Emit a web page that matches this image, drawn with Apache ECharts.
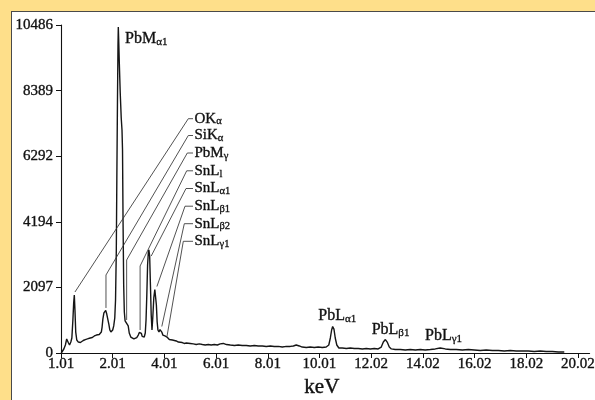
<!DOCTYPE html>
<html><head><meta charset="utf-8">
<script src="https://cdn.jsdelivr.net/npm/echarts@6/dist/echarts.min.js"></script>
<style>
html,body{margin:0;padding:0;background:#FEDF8A;width:595px;height:400px;overflow:hidden;}
#panel{position:absolute;left:11px;top:11px;width:600px;height:400px;background:#fff;border-left:1px solid #4a4a4a;border-top:1px solid #4a4a4a;}
#chart{position:absolute;left:0;top:0;width:595px;height:400px;}
</style></head><body>
<div id="panel"></div><div id="chart"></div>
<script>
// ---- data ----
const energyKeV = [0.01,0.05,0.11,0.17,0.22,0.255,0.29,0.33,0.38,0.42,
0.46,0.49,0.515,0.54,0.57,0.61,0.67,0.71,0.75,0.785,
0.82,0.86,0.90,0.94,0.98,1.02,1.06,1.09,1.13,1.17,
1.21,1.25,1.29,1.33,1.37,1.40,1.44,1.48,1.52,1.56,
1.59,1.62,1.66,1.69,1.73,1.77,1.81,1.85,1.89,1.93,
1.97,2.00,2.04,2.08,2.11,2.14,2.16,2.185,2.205,2.217,
2.23,2.255,2.29,2.33,2.36,2.38,2.40,2.425,2.45,2.48,
2.52,2.55,2.60,2.64,2.70,2.76,2.82,2.87,2.93,2.99,
3.03,3.07,3.11,3.14,3.18,3.22,3.26,3.29,3.32,3.35,
3.38,3.40,3.43,3.46,3.49,3.52,3.55,3.59,3.63,3.66,
3.69,3.72,3.75,3.79,3.83,3.86,3.90,3.94,3.98,4.02,
4.06,4.10,4.14,4.19,4.25,4.31,4.38,4.46,4.54,4.61,
4.69,4.77,4.85,4.92,5.00,5.12,5.23,5.35,5.47,5.58,
5.70,5.81,5.93,6.05,6.16,6.28,6.40,6.55,6.71,6.86,
7.01,7.17,7.32,7.48,7.63,7.79,7.94,8.10,8.25,8.41,
8.56,8.72,8.87,8.99,9.10,9.22,9.33,9.49,9.64,9.80,
9.95,10.11,10.26,10.36,10.42,10.47,10.51,10.56,10.61,10.67,
10.75,10.88,11.04,11.19,11.35,11.50,11.66,11.81,11.97,12.12,
12.27,12.39,12.47,12.55,12.62,12.70,12.78,12.93,13.13,13.32,
13.51,13.71,13.90,14.09,14.29,14.48,14.67,14.87,15.06,15.29,
15.53,15.76,15.99,16.22,16.45,16.69,16.92,17.15,17.38,17.61,
17.84,18.08,18.31,18.54,18.77,19.01,19.24,19.47];
const counts = [0,32,128,256,448,480,320,256,352,480,
1055,1600,1855,1375,670,415,350,385,335,385,
350,400,385,430,415,450,465,450,480,510,
495,530,545,560,575,590,607,590,625,670,
830,1085,1280,1340,1360,1245,1185,925,735,670,
670,735,865,1120,1695,3290,5530,8090,9845,10420,
10070,9300,8345,7515,7130,6490,4250,2175,1310,1025,
1085,1025,865,640,510,465,450,465,495,575,
655,685,625,530,480,510,640,1055,1855,2815,
3230,3295,3100,2175,1215,735,1120,1760,2030,1980,
1535,990,735,670,750,785,670,575,530,545,
495,510,465,430,400,415,370,385,350,320,
335,305,320,290,305,290,270,290,270,255,
270,255,270,255,290,305,270,255,240,255,
240,240,225,240,225,225,210,225,210,210,
190,210,210,225,255,225,190,175,190,175,
190,175,190,255,480,735,845,765,480,255,
160,160,145,160,145,145,130,145,130,145,
130,190,350,430,350,190,130,110,110,95,
110,95,110,95,110,130,160,130,110,110,
95,110,95,80,95,80,80,65,80,65,
65,65,50,65,50,50,30,30];
const yTickLabels = ['0','2097','4194','6292','8389','10486'];
const xTickLabels = ['1.01','2.01','4.01','6.01','8.01','10.01','12.02','14.02','16.02','18.02','20.02'];
const xAxisName = 'keV';

const peakNames = ['PbM','PbL','PbL','PbL'];
const peakSubs = ['α1','α1','β1','γ1'];
const peakKeV = [2.217, 10.51, 12.55, 14.67];
const peakCounts = [10420, 845, 430, 160];

const leaderNames = ['OK','SiK','PbM','SnL','SnL','SnL','SnL','SnL'];
const leaderSubs = ['α','α','γ','l','α1','β1','β2','γ1'];
const leaderKeV = [0.54, 1.74, 2.54, 3.06, 3.49, 3.71, 3.90, 4.10];
const leaderEndCounts = [1950, 1440, 1055, 735, 3100, 2125, 847, 527];
const leaderBendCounts = [1950, 2494, 2973, 2781, 3100, 2125, 847, 527];

// ---- layout / style (not data) ----
const leaderRowsY = [118.7, 135.5, 153, 170.8, 188.5, 206.2, 223.7, 241.3];
const leaderStartX = [188.3, 188.3, 187.3, 186.7, 186, 185, 184.3, 183.3];
const peakLabelOffset = [[6.7, 12], [-14.4, -10.7], [-13.7, -9.5], [-15.2, -11.7]];
const FONT = '"Liberation Serif", "Times New Roman", serif';
const INK = '#111';

function richStyle(main, sub, pad) {
  return {
    m: {fontFamily: FONT, fontSize: main, lineHeight: main + 1, fill: INK, stroke: INK, lineWidth: 0.35},
    s: {fontFamily: FONT, fontSize: sub, lineHeight: sub, padding: [pad, 0, 0, 0], fill: INK, stroke: INK, lineWidth: 0.3}
  };
}

const seriesData = energyKeV.map((e, i) => [e, counts[i]]);
const X_MAX = 20.45;
const axisText = {fontFamily: FONT, fontSize: 15, color: INK, textBorderColor: INK, textBorderWidth: 0.35};

const chart = echarts.init(document.getElementById('chart'), null, {renderer: 'canvas'});
chart.setOption({
  animation: false,
  backgroundColor: 'transparent',
  grid: {left: 61, right: 5.4, top: 25, bottom: 47, containLabel: false, outerBoundsMode: 'none'},
  xAxis: {
    type: 'value', min: 0, max: X_MAX,
    name: xAxisName, nameLocation: 'middle', nameGap: 22,
    nameTextStyle: {fontFamily: FONT, fontSize: 21, color: INK, textBorderColor: INK, textBorderWidth: 0.4, padding: [0, 7, 0, 0]},
    axisLine: {show: true, lineStyle: {color: INK, width: 1.1}},
    axisTick: {show: true, length: 5, inside: false, lineStyle: {color: INK},
      customValues: xTickLabels.map((_, i) => i * 2)},
    axisLabel: Object.assign({show: true, margin: 4,
      customValues: xTickLabels.map((_, i) => i * 2),
      formatter: v => xTickLabels[Math.round(v / 2)] || ''}, axisText),
    splitLine: {show: false}
  },
  yAxis: {
    type: 'value', min: 0, max: Number(yTickLabels[yTickLabels.length - 1]),
    axisLine: {show: true, lineStyle: {color: INK, width: 1.1}},
    axisTick: {show: true, length: 5, lineStyle: {color: INK},
      customValues: yTickLabels.map(Number)},
    axisLabel: Object.assign({show: true, margin: 8,
      customValues: yTickLabels.map(Number),
      formatter: v => String(Math.round(v))}, axisText),
    splitLine: {show: false}
  },
  series: [
    {
      type: 'line', data: seriesData, showSymbol: false, symbol: 'none',
      lineStyle: {color: '#151515', width: 1.4}, z: 3
    },
    {
      type: 'custom', coordinateSystem: 'cartesian2d', clip: false, z: 4,
      data: leaderKeV.map((k, i) => [k, leaderEndCounts[i], leaderBendCounts[i]]),
      renderItem: function (params, api) {
        const i = params.dataIndex;
        const end = api.coord([api.value(0), api.value(1)]);
        const bend = api.coord([api.value(0), api.value(2)]);
        const ly = leaderRowsY[i];
        const pts = [[193, ly], [leaderStartX[i], ly], bend, end];
        return {
          type: 'group',
          children: [
            {type: 'polyline', shape: {points: pts},
             style: {stroke: '#333', lineWidth: 0.85, fill: null}},
            {type: 'text',
             style: {x: 194.5, y: ly, text: '{m|' + leaderNames[i] + '}{s|' + leaderSubs[i] + '}',
                     rich: richStyle(15, 10.5, 6), align: 'left', verticalAlign: 'middle', fill: INK}}
          ]
        };
      }
    },
    {
      type: 'custom', coordinateSystem: 'cartesian2d', clip: false, z: 4,
      data: peakKeV.map((k, i) => [k, peakCounts[i]]),
      renderItem: function (params, api) {
        const i = params.dataIndex;
        const p = api.coord([api.value(0), api.value(1)]);
        const off = peakLabelOffset[i];
        return {
          type: 'text',
          style: {x: p[0] + off[0], y: p[1] + off[1],
                  text: '{m|' + peakNames[i] + '}{s|' + peakSubs[i] + '}',
                  rich: richStyle(16, 11, 6), align: 'left', verticalAlign: 'middle', fill: INK}
        };
      }
    }
  ]
});
</script>
</body></html>
